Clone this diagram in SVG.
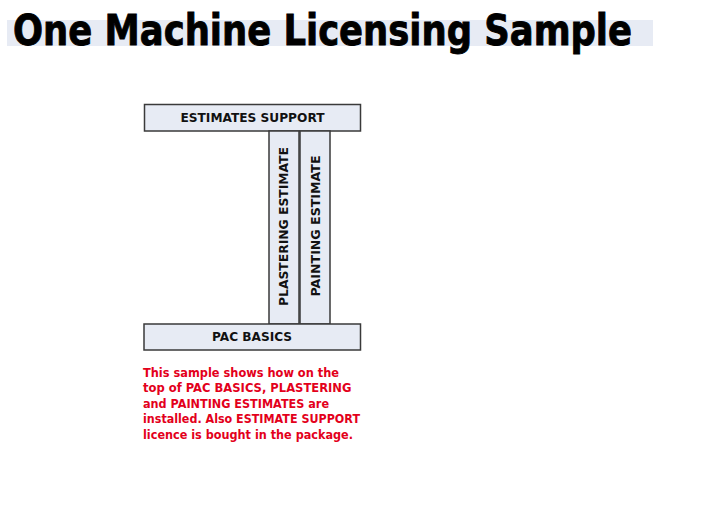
<svg xmlns="http://www.w3.org/2000/svg" width="721" height="530" viewBox="0 0 721 530">
<style>
.box{fill:#e7ebf4;stroke:#3a3a3a;stroke-width:1.5}
.lbl{font-family:"DejaVu Sans","Liberation Sans",sans-serif;font-weight:bold;font-size:12px;fill:#111;text-anchor:middle}
.note{font-family:"DejaVu Sans","Liberation Sans",sans-serif;font-weight:bold;font-size:12px;fill:#e3001b}
</style>
<rect width="721" height="530" fill="#ffffff"/>
<g id="title">
<rect x="7" y="20" width="646" height="26" fill="#e7ebf4"/>
<text x="13" y="44.5" font-family="DejaVu Sans,Liberation Sans,sans-serif" font-weight="bold" font-size="42" fill="#000" stroke="#000" stroke-width="0.9" textLength="619" lengthAdjust="spacingAndGlyphs">One Machine Licensing Sample</text>
</g>
<g id="connectors"></g>
<g id="estimates-support">
<rect class="box" x="144.5" y="104.5" width="216" height="26.5"/>
<text class="lbl" x="252.5" y="121.7" textLength="144" lengthAdjust="spacingAndGlyphs">ESTIMATES SUPPORT</text>
</g>
<g id="plastering-estimate">
<rect class="box" x="269" y="131" width="30" height="193"/>
<text class="lbl" transform="translate(288.2,226.5) rotate(-90)" x="0" y="0" textLength="159" lengthAdjust="spacingAndGlyphs">PLASTERING ESTIMATE</text>
</g>
<g id="painting-estimate">
<rect class="box" x="300" y="131" width="30" height="193"/>
<text class="lbl" transform="translate(319.5,226) rotate(-90)" x="0" y="0" textLength="141" lengthAdjust="spacingAndGlyphs">PAINTING ESTIMATE</text>
</g>
<g id="pac-basics">
<rect class="box" x="144" y="324" width="216.5" height="26"/>
<text class="lbl" x="252" y="340.7" textLength="80" lengthAdjust="spacingAndGlyphs">PAC BASICS</text>
</g>
<g id="note">
<text class="note" x="143" y="376.5" textLength="196" lengthAdjust="spacingAndGlyphs">This sample shows how on the</text>
<text class="note" x="143" y="392" textLength="208.5" lengthAdjust="spacingAndGlyphs">top of PAC BASICS, PLASTERING</text>
<text class="note" x="143" y="407.7" textLength="186" lengthAdjust="spacingAndGlyphs">and PAINTING ESTIMATES are</text>
<text class="note" x="143" y="423.4" textLength="217" lengthAdjust="spacingAndGlyphs">installed. Also ESTIMATE SUPPORT</text>
<text class="note" x="143" y="439" textLength="210" lengthAdjust="spacingAndGlyphs">licence is bought in the package.</text>
</g>
</svg>
